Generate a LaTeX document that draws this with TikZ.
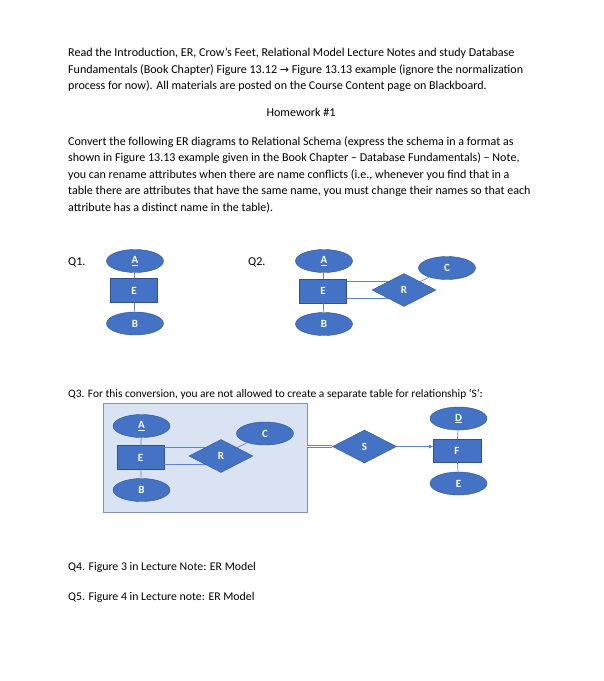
\documentclass[tikz,border=0pt]{standalone}
\usepackage{fontspec}
\setmainfont{Carlito}
\newfontfamily\symfont{DejaVu Sans}
\usepackage{xcolor}
\usetikzlibrary{shapes.geometric,arrows.meta,calc}
\definecolor{erfill}{HTML}{4472C4}
\definecolor{erline}{HTML}{2F528F}
\definecolor{erlink}{HTML}{5F83C8}
\definecolor{aggfill}{HTML}{DAE3F3}
\definecolor{aggline}{HTML}{7F94BC}

\begin{document}
\begin{tikzpicture}[x=1pt,y=-1pt,>=stealth,
    txt/.style={inner sep=0pt,anchor=north west,align=left,font=\fontsize{12.05}{16.5}\selectfont},
    attr/.style={ellipse,draw=erline,fill=erfill,text=white,inner sep=0pt,minimum width=57,minimum height=23,font=\fontsize{11}{11}\selectfont\bfseries},
    ent/.style={rectangle,draw=erline,fill=erfill,text=white,inner sep=0pt,minimum width=47,minimum height=24,font=\fontsize{11}{11}\selectfont\bfseries},
    rel/.style={diamond,draw=erline,fill=erfill,text=white,inner sep=0pt,aspect=2,minimum width=64,minimum height=33,font=\fontsize{11}{11}\selectfont\bfseries},
    link/.style={draw=erlink,line width=0.7pt}]
    \useasboundingbox (0,0) rectangle (604,681);

    % text
    \node[txt] (intro) at (68,48) {Read the Introduction, ER, Crow’s Feet, Relational Model Lecture Notes and study Database\\
        Fundamentals (Book Chapter) Figure 13.12 {\symfont\fontsize{11}{11}\selectfont→} Figure 13.13 example (ignore the normalization\\
        process for now). All materials are posted on the Course Content page on Blackboard.};
    \node[txt,anchor=north] (hw) at (301,108) {Homework \#1};
    \node[txt] (task) at (68,136) {Convert the following ER diagrams to Relational Schema (express the schema in a format as\\
        shown in Figure 13.13 example given in the Book Chapter – Database Fundamentals) – Note,\\
        you can rename attributes when there are name conflicts (i.e., whenever you find that in a\\
        table there are attributes that have the same name, you must change their names so that each\\
        attribute has a distinct name in the table).};

    % Q1
    \node[txt] (q1) at (68,257) {Q1.};
    \node[attr] (a1) at (135,261) {\underline{A}};
    \node[ent] (e1) at (134,290.5) {E};
    \node[attr] (b1) at (135,323.5) {B};
    \draw[link] (a1) -- (e1);
    \draw[link] (e1) -- (b1);

    % Q2
    \node[txt] (q2) at (248,257) {Q2.};
    \node[attr] (a2) at (324,261) {\underline{A}};
    \node[ent] (e2) at (323,291) {E};
    \node[attr] (b2) at (324,324) {B};
    \node[rel] (r2) at (404,290) {R};
    \node[attr] (c2) at (447,268) {C};
    \coordinate (r2u) at ($(r2.west)!.5!(r2.north)$);
    \coordinate (r2d) at ($(r2.west)!.5!(r2.south)$);
    \draw[link] (a2) -- (e2);
    \draw[link] (e2) -- (b2);
    \draw[link] (e2.east |- r2u) -- (r2u);
    \draw[link] (e2.east |- r2d) -- (r2d);
    \draw[link] (r2.north east) -- (c2);

    % Q3
    \node[txt,font=\fontsize{11.4}{14}\selectfont] (q3) at (68,389) {Q3. For this conversion, you are not allowed to create a separate table for relationship ‘S’:};
    \node[rectangle,draw=aggline,fill=aggfill,line width=0.8pt,minimum width=204,minimum height=109] (agg) at (205,457.5) {};
    \node[attr] (a3) at (141.5,426) {\underline{A}};
    \node[ent] (e3) at (140.5,457.5) {E};
    \node[attr] (b3) at (141.5,490) {B};
    \node[rel] (r3) at (221,456) {R};
    \node[attr] (c3) at (265,433.5) {C};
    \coordinate (r3u) at ($(r3.west)!.5!(r3.north)$);
    \coordinate (r3d) at ($(r3.west)!.5!(r3.south)$);
    \draw[link] (a3) -- (e3);
    \draw[link] (e3) -- (b3);
    \draw[link] (e3.east |- r3u) -- (r3u);
    \draw[link] (e3.east |- r3d) -- (r3d);
    \draw[link] (r3.north east) -- (c3);
    \node[rel] (s3) at (364.5,446.5) {S};
    \node[ent,minimum width=48,minimum height=23] (f3) at (457,450.5) {F};
    \node[attr] (d3) at (458.5,418.5) {\underline{D}};
    \node[attr] (ee3) at (458.5,483.5) {E};
    \draw[link,double=white,double distance=1.2pt,line width=0.45pt] (agg.east |- s3) -- (s3.west);
    \draw[link,-{Triangle[length=4pt,width=4pt]}] (s3.east) -- (s3.east -| f3.west);
    \draw[link] (d3) -- (f3);
    \draw[link] (f3) -- (ee3);

    % Q4, Q5
    \node[txt,font=\fontsize{11.8}{14}\selectfont] (q4) at (68,562) {Q4. Figure 3 in Lecture Note: ER Model};
    \node[txt,font=\fontsize{11.8}{14}\selectfont] (q5) at (68,592) {Q5. Figure 4 in Lecture note: ER Model};
\end{tikzpicture}
\end{document}
